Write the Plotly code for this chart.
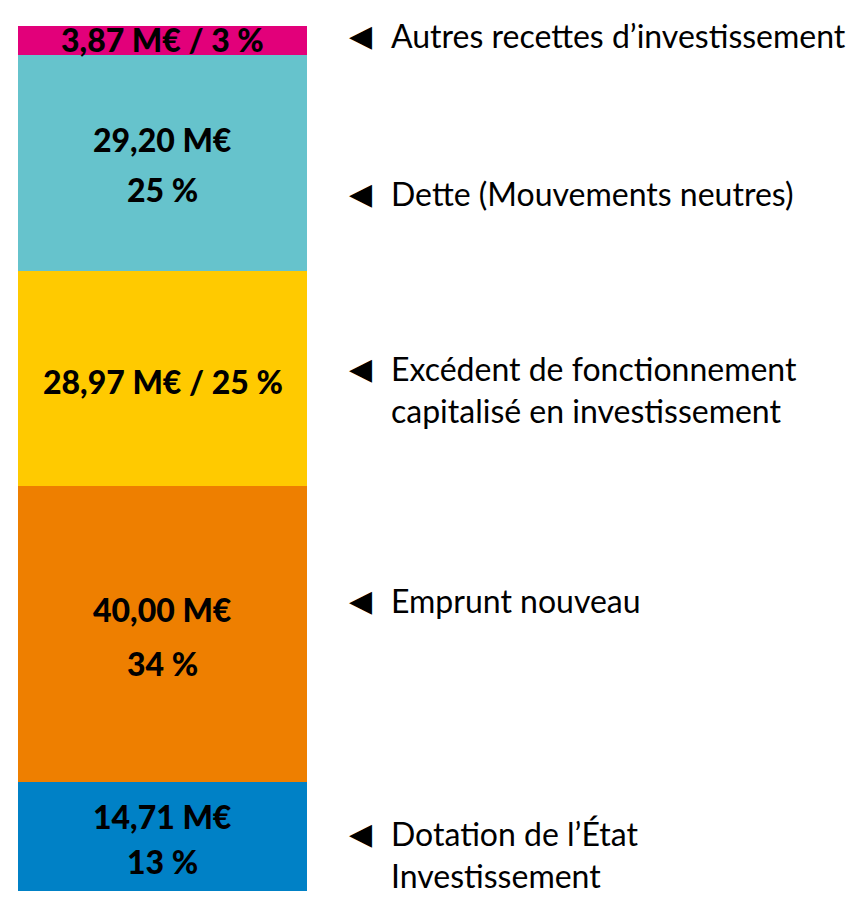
import plotly.graph_objects as go

# ---- data (bottom to top) ----
segments = ["Dotation de l’État", "Emprunt nouveau", "Excédent de fonctionnement",
            "Dette (Mouvements neutres)", "Autres recettes d’investissement"]
values = [14.71, 40.00, 28.97, 29.20, 3.87]
percents = [13, 34, 25, 25, 3]
colors = ["#0081C6", "#EE7F00", "#FFCA00", "#66C3CC", "#E2007A"]
two_line_inside = [True, True, False, True, False]
right_labels = [
    ["Dotation de l’État", "Investissement"],
    ["Emprunt nouveau"],
    ["Excédent de fonctionnement", "capitalisé en investissement"],
    ["Dette (Mouvements neutres)"],
    ["Autres recettes d’investissement"],
]
# vertical position (data units) of the first line of each right-hand label
right_label_y = [7.8, 39.2, 70.5, 94.1, 115.5]
inside_gap = [45, 54, 0, 50, 0]     # px spacing between the two inside lines
inside_offset = [-2, -3, -3, -2, 1]  # px fine vertical offset of inside labels

total = sum(values)

fig = go.Figure()
for name, v, c in zip(segments, values, colors):
    fig.add_trace(go.Bar(x=[0], y=[v], name=name, marker=dict(color=c, line=dict(width=0)),
                         width=1, showlegend=False, hoverinfo="skip"))

annotations = []
inside_font = dict(family="Lato", size=32, color="#000000", weight=900)
right_font = dict(family="Lato", size=32, color="#000000")

base = 0.0
for i, v in enumerate(values):
    center = base + v / 2
    base += v
    val_txt = f"{v:.2f}".replace(".", ",") + " M€"
    pct_txt = f"{percents[i]} %"
    if two_line_inside[i]:
        lines = [val_txt, pct_txt]
    else:
        lines = [val_txt + " / " + pct_txt]
    n = len(lines)
    for j, t in enumerate(lines):
        shift = ((n - 1) / 2 - j) * inside_gap[i] + inside_offset[i]
        annotations.append(dict(x=0, y=center, xref="x", yref="y", text=t, showarrow=False,
                                font=inside_font, xanchor="center", yanchor="middle",
                                yshift=shift))

for lab, y in zip(right_labels, right_label_y):
    annotations.append(dict(x=1.1834, y=y, xref="paper", yref="y", text="◀", showarrow=False,
                            font=dict(family="DejaVu Sans", size=30, color="#000000"),
                            xanchor="center", yanchor="middle"))
    for j, t in enumerate(lab):
        annotations.append(dict(x=1.284, y=y, xref="paper", yref="y", text=t, showarrow=False,
                                font=right_font, xanchor="left", yanchor="middle",
                                yshift=-42 * j))

fig.update_layout(
    barmode="stack",
    width=846, height=898,
    margin=dict(l=18, r=539, t=26, b=7),
    paper_bgcolor="white", plot_bgcolor="white",
    xaxis=dict(range=[-0.5, 0.5], visible=False, fixedrange=True),
    yaxis=dict(range=[0, total], visible=False, fixedrange=True),
    annotations=annotations,
    bargap=0,
)

fig.write_html("out.html", config={"displayModeBar": False},
               post_script="document.body.style.margin='0';document.body.style.overflow='hidden';")
